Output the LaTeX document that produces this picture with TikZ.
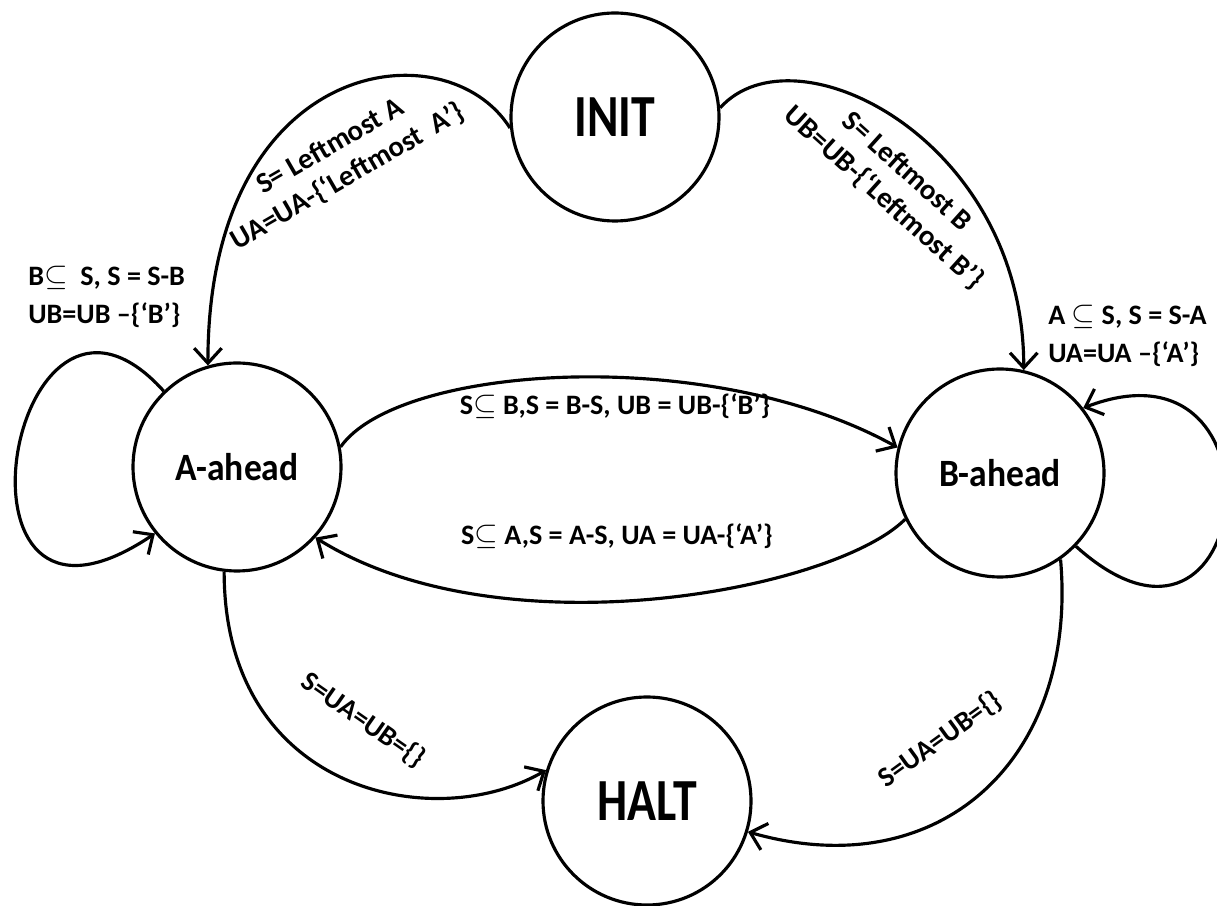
\documentclass[tikz,border=0pt]{standalone}
\usepackage{fontspec}
\setmainfont{Carlito}
\newfontfamily\statefont[FakeStretch=0.92]{Carlito}
\newfontfamily\statebigfont[FakeStretch=0.8]{Carlito}
\usetikzlibrary{arrows.meta, positioning}

\tikzset{
    state/.style={circle, draw=black, line width=1.8pt, minimum size=4.16cm, inner sep=0pt, font=\statefont\fontsize{22}{26}\selectfont\bfseries},
    state_big/.style={state, font=\statebigfont\fontsize{34}{40}\selectfont\bfseries},
    arr/.style={-{Straight Barb[length=3mm, width=5.5mm, line width=1.8pt]}, line width=1.8pt},
    lbl/.style={font=\fontsize{16}{22}\selectfont\bfseries, inner sep=0pt, align=center},
    lbl_r/.style={lbl, font=\fontsize{16.5}{20}\selectfont\bfseries},
    lbl_l/.style={lbl, align=left, anchor=west},
}

\begin{document}
\begin{tikzpicture}

\useasboundingbox (0,0) rectangle (24.34,18.10);

% States
\node[state_big] (init) at (12.30,15.76) {INIT};
\node[state] (aahead) at (4.74,8.76) {A-ahead};
\node[state] (bahead) at (20.00,8.64) {B-ahead};
\node[state_big] (halt) at (12.94,2.08) {HALT};

% Transitions
\draw[arr] (init.186) to[out=122, in=90, out distance=2.4cm, in distance=6.2cm] (aahead.106);
\draw[arr] (init.5) to[out=48, in=90, out distance=2.24cm, in distance=4.6cm] (bahead.77);
\draw[arr] (aahead.134) to[out=132, in=214, out distance=4.6cm, in distance=5.4cm] (aahead.219);
\draw[arr] (bahead.-44) to[out=-42, in=21, out distance=4.8cm, in distance=4.5cm] (bahead.38);
\draw[arr] (aahead.11) to[out=55, in=151, out distance=2cm, in distance=4.3cm] (bahead.166);
\draw[arr] (bahead.206) to[out=225, in=-32, out distance=2cm, in distance=4.4cm] (aahead.-42);
\draw[arr] (aahead.263) to[out=270, in=210, out distance=4.4cm, in distance=2.6cm] (halt.163);
\draw[arr] (bahead.-55) to[out=-85, in=-16, out distance=4cm, in distance=4cm] (halt.-17);

% Labels
\node[lbl_r, rotate=30] (l_ia) at (6.78,14.86) {S= Leftmost A\\UA=UA-\{‘Leftmost~ A’\}};
\node[lbl_r, rotate=-42] (l_ib) at (17.90,14.40) {S= Leftmost B\\UB=UB-\{‘Leftmost B’\}};
\node[lbl_l] (l_aa) at (0.56,12.16) {B$\subseteq$~ S, S = S-B\\UB=UB –\{‘B’\}};
\node[lbl_l] (l_bb) at (20.96,11.38) {A $\subseteq$ S, S = S-A\\UA=UA –\{‘A’\}};
\node[lbl] (l_ab) at (12.30,9.98) {S$\subseteq$ B,S = B-S, UB = UB-\{‘B’\}};
\node[lbl] (l_ba) at (12.34,7.38) {S$\subseteq$ A,S = A-S, UA = UA-\{‘A’\}};
\node[lbl, rotate=-35] (l_ah) at (7.26,3.70) {S=UA=UB=\{\}};
\node[lbl, rotate=36] (l_bh) at (18.80,3.30) {S=UA=UB=\{\}};

\end{tikzpicture}
\end{document}
